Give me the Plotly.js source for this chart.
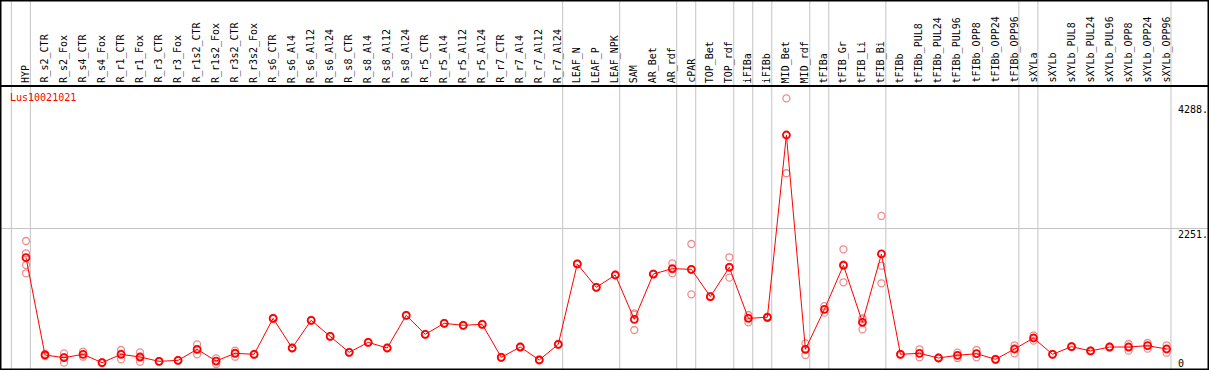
<!DOCTYPE html>
<html>
<head>
<meta charset="utf-8">
<script src="https://cdn.plot.ly/plotly-3.0.1.min.js"></script>
<style>html,body{margin:0;padding:0;background:#fff;}#chart{width:1209px;height:370px;}</style>
</head>
<body>
<div id="chart"></div>
<script>
const geneName = "Lus10021021";
const categories = ["HYP","R_s2_CTR","R_s2_Fox","R_s4_CTR","R_s4_Fox","R_r1_CTR","R_r1_Fox","R_r3_CTR","R_r3_Fox","R_r1s2_CTR","R_r1s2_Fox","R_r3s2_CTR","R_r3s2_Fox","R_s6_CTR","R_s6_Al4","R_s6_Al12","R_s6_Al24","R_s8_CTR","R_s8_Al4","R_s8_Al12","R_s8_Al24","R_r5_CTR","R_r5_Al4","R_r5_Al12","R_r5_Al24","R_r7_CTR","R_r7_Al4","R_r7_Al12","R_r7_Al24","LEAF_N","LEAF_P","LEAF_NPK","SAM","AR_Bet","AR_rdf","cPAR","TOP_Bet","TOP_rdf","iFIBa","iFIBb","MID_Bet","MID_rdf","tFIBa","tFIB_Gr","tFIB_Li","tFIB_Bi","tFIBb","tFIBb_PUL8","tFIBb_PUL24","tFIBb_PUL96","tFIBb_OPP8","tFIBb_OPP24","tFIBb_OPP96","sXYLa","sXYLb","sXYLb_PUL8","sXYLb_PUL24","sXYLb_PUL96","sXYLb_OPP8","sXYLb_OPP24","sXYLb_OPP96"];
const meanValues = [1775,198,154,209,73,209,165,95,111,290,100,225,209,792,311,760,500,241,403,311,841,533,711,679,695,160,327,117,371,1673,1295,1494,776,1510,1597,1586,1143,1619,792,809,3763,290,938,1651,728,1835,209,225,149,193,219,128,295,473,209,333,263,327,327,349,295];
const replicateValues = [[2045,1846,1656,1522],[215,180],[225,73,160],[251,170],[80,65],[279,128,220],[241,89,165],[100,90],[115,105],[371,209,290],[144,52],[268,170,235],[215,203],[800,785],[315,305],[765,755],[505,495],[245,237],[408,398],[315,307],[846,836],[538,528],[716,706],[684,674],[700,690],[165,155],[332,322],[122,112],[376,366],[1680,1666],[1300,1290],[1500,1488],[873,852,603],[1516,1504],[1684,1522,1590],[1997,1181,1580],[1150,1136],[1781,1451,1625],[846,728,800],[820,798],[4358,3143],[387,198,285],[884,990],[1911,1376,1666],[792,614,778],[2451,1645,1360],[215,203],[290,160],[155,143],[235,149],[279,160],[135,120],[355,225],[430,515],[215,203],[340,326],[270,256],[334,320],[376,268],[392,300],[355,235]];
const groupEnds = [-1,0,28,31,34,35,37,38,39,41,42,45,52,53,60];
const yTickVals = [4288,2251,0];
const yTickText = ["4288.","2251.","0"];

const idx = categories.map((c,i)=>i);
const repX = [], repY = [];
replicateValues.forEach((arr,i)=>arr.forEach(v=>{repX.push(i);repY.push(v);}));

const mono = "DejaVu Sans Mono, monospace";
const headerY = (370-86)/370;

const traces = [
  {x:repX, y:repY, type:"scatter", mode:"markers", hoverinfo:"skip",
   marker:{symbol:"circle-open", size:7, color:"#f08c8c", line:{width:1.3,color:"#f08c8c"}}},
  {x:idx, y:meanValues, type:"scatter", mode:"lines+markers", hoverinfo:"skip",
   line:{color:"#ff0000", width:1},
   marker:{symbol:"circle-open", size:7, color:"#ff0000", line:{width:1.8,color:"#ff0000"}}}
];

const shapes = groupEnds.map(g=>({type:"line", layer:"below", xref:"x", yref:"paper", x0:g+0.23, x1:g+0.23, y0:0, y1:1, line:{color:"#c4c4c4", width:1}}));
shapes.push({type:"line", xref:"paper", yref:"paper", x0:0, x1:1, y0:headerY, y1:headerY, line:{color:"#000", width:2}});
shapes.push({type:"rect", xref:"paper", yref:"paper", x0:0, x1:1, y0:0, y1:1, line:{color:"#000", width:3}});

const annotations = categories.map((c,i)=>({x:i, xref:"x", y:headerY+2/370, yref:"paper", text:c, textangle:-90, showarrow:false, xanchor:"center", yanchor:"bottom", borderpad:0, font:{family:mono, size:10, color:"#000"}}));
yTickVals.forEach((v,k)=>annotations.push({x:1177/1209, xref:"paper", y:v, yref:"y", yshift:(v===0?-3:0), text:yTickText[k], showarrow:false, xanchor:"left", yanchor:(v===0?"bottom":"top"), borderpad:0, font:{family:mono, size:10, color:"#000"}}));
annotations.push({x:9/1209, xref:"paper", y:1-97/370, yref:"paper", text:geneName, showarrow:false, xanchor:"left", yanchor:"middle", borderpad:0, font:{family:mono, size:10, color:"#ff0000"}});

const layout = {
  width:1209, height:370, margin:{l:0,r:0,t:0,b:0},
  paper_bgcolor:"#fff", plot_bgcolor:"#fff", showlegend:false, hovermode:false,
  xaxis:{range:[-26/19.01,(1209-26)/19.01], showgrid:false, zeroline:false, showticklabels:false, ticks:"", fixedrange:true},
  yaxis:{range:[-45.4,5951], tickvals:[2251], showgrid:true, gridcolor:"#c4c4c4", gridwidth:1, zeroline:false, showticklabels:false, ticks:"", fixedrange:true},
  shapes:shapes, annotations:annotations
};
Plotly.newPlot("chart", traces, layout, {displayModeBar:false, staticPlot:true});
</script>
</body>
</html>
